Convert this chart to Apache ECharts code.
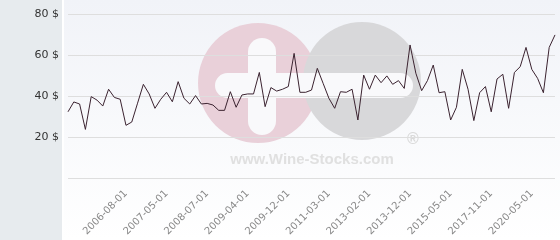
<!DOCTYPE html>
<html>
<head>
<meta charset="utf-8">
<script src="https://cdn.jsdelivr.net/npm/echarts@6/dist/echarts.min.js"></script>
<style>html,body{margin:0;padding:0;background:#fff}#c{width:560px;height:240px}</style>
</head>
<body>
<div id="c"></div>
<script>
const dates = [
 '2005-05-01','2005-06-01','2005-07-01','2005-09-01','2005-10-01','2005-12-01','2006-01-01','2006-03-01','2006-04-01','2006-06-01',
 '2006-08-01','2006-09-01','2006-10-01','2006-11-01','2007-01-01','2007-02-01','2007-04-01','2007-05-01','2007-07-01','2007-09-01',
 '2007-11-01','2008-01-01','2008-03-01','2008-05-01','2008-07-01','2008-08-01','2008-10-01','2008-11-01','2008-12-01','2009-02-01',
 '2009-03-01','2009-04-01','2009-05-01','2009-06-01','2009-07-01','2009-09-01','2009-10-01','2009-11-01','2009-12-01','2010-02-01',
 '2010-04-01','2010-06-01','2010-09-01','2010-11-01','2011-01-01','2011-03-01','2011-06-01','2011-09-01','2011-12-01','2012-03-01',
 '2012-06-01','2012-10-01','2013-02-01','2013-03-01','2013-05-01','2013-06-01','2013-08-01','2013-09-01','2013-11-01','2013-12-01',
 '2014-02-01','2014-04-01','2014-06-01','2014-09-01','2014-11-01','2015-02-01','2015-05-01','2015-09-01','2016-01-01','2016-04-01',
 '2016-08-01','2016-12-01','2017-05-01','2017-11-01','2018-03-01','2018-07-01','2018-11-01','2019-03-01','2019-07-01','2019-11-01',
 '2020-05-01','2020-09-01','2021-01-01','2021-05-01','2021-09-01'
];
const prices = [
 32.3,37.1,36.1,23.7,39.7,38.0,35.1,43.3,39.3,38.4,
 25.7,27.3,36.5,45.7,41.0,34.0,38.4,41.8,37.2,47.0,
 38.9,36.1,40.2,36.1,36.4,35.6,33.0,33.0,42.1,34.5,
 40.5,41.0,41.0,51.5,34.8,44.1,42.4,43.3,44.6,60.8,
 41.8,41.8,42.9,53.5,46.2,38.9,34.0,42.1,41.8,43.3,
 28.3,50.2,43.3,50.2,46.5,49.8,45.7,47.5,43.7,64.9,
 51.1,42.6,47.5,55.1,41.6,42.1,28.3,34.5,53.0,43.3,
 28.0,41.6,44.6,32.3,48.3,50.6,34.0,51.5,54.3,63.7,
 53.0,48.6,41.6,63.7,69.8
];
const yTicks = [0, 20, 40, 60, 80];
const firstLabelIndex = 10;
const labelStep = 7;

const chart = echarts.init(document.getElementById('c'), null, {renderer: 'canvas'});
chart.setOption({
  animation: false,
  backgroundColor: '#ffffff',
  graphic: [
    {type: 'rect', z: -20, shape: {x: 0, y: 0, width: 62, height: 240}, style: {fill: '#e7ebee'}},
    {type: 'rect', z: -20, shape: {x: 64, y: 0, width: 496, height: 240},
     style: {fill: new echarts.graphic.LinearGradient(0, 0, 0, 1, [{offset: 0, color: '#f1f3f8'}, {offset: 1, color: '#ffffff'}])}},
    {type: 'circle', z: -10, shape: {cx: 258, cy: 83, r: 60}, style: {fill: '#e9d0d9'}},
    {type: 'circle', z: -9, shape: {cx: 362, cy: 81, r: 59}, style: {fill: '#d8d8da'}},
    {type: 'rect', z: -8, shape: {x: 248, y: 38, width: 28, height: 97, r: 14}, style: {fill: '#f9f9fb'}},
    {type: 'rect', z: -8, shape: {x: 215, y: 73, width: 198, height: 25, r: 12.5}, style: {fill: '#f9f9fb'}},
    {type: 'text', z: -8, style: {text: 'www.Wine-Stocks.com', x: 312, y: 160, align: 'center', verticalAlign: 'middle',
      font: 'bold 15px "Liberation Sans", Arial, sans-serif', fill: '#e0e0e0'}},
    {type: 'text', z: -8, style: {text: '®', x: 413, y: 140, align: 'center', verticalAlign: 'middle',
      font: 'bold 16px "Liberation Sans", Arial, sans-serif', fill: '#dadada'}}
  ],
  grid: {left: 68, right: 5, top: 14, bottom: 62, containLabel: false},
  xAxis: {
    type: 'category', data: dates, boundaryGap: false,
    axisLine: {show: false}, axisTick: {show: false},
    axisLabel: {
      rotate: 45, margin: 14, color: '#888', fontSize: 10, fontFamily: 'DejaVu Sans',
      interval: (i) => i >= firstLabelIndex && (i - firstLabelIndex) % labelStep === 0
    },
    splitLine: {show: false}
  },
  yAxis: {
    type: 'value', min: yTicks[0], max: yTicks[yTicks.length - 1], interval: 20,
    axisLine: {show: false}, axisTick: {show: false},
    axisLabel: {formatter: '{value} $', color: '#333', fontSize: 11, fontFamily: 'DejaVu Sans', margin: 9, showMinLabel: false},
    splitLine: {lineStyle: {color: '#dedede', width: 1}}
  },
  series: [{
    type: 'line', data: prices, showSymbol: false, symbol: 'none',
    lineStyle: {color: '#3b2330', width: 1}
  }]
});
</script>
</body>
</html>
